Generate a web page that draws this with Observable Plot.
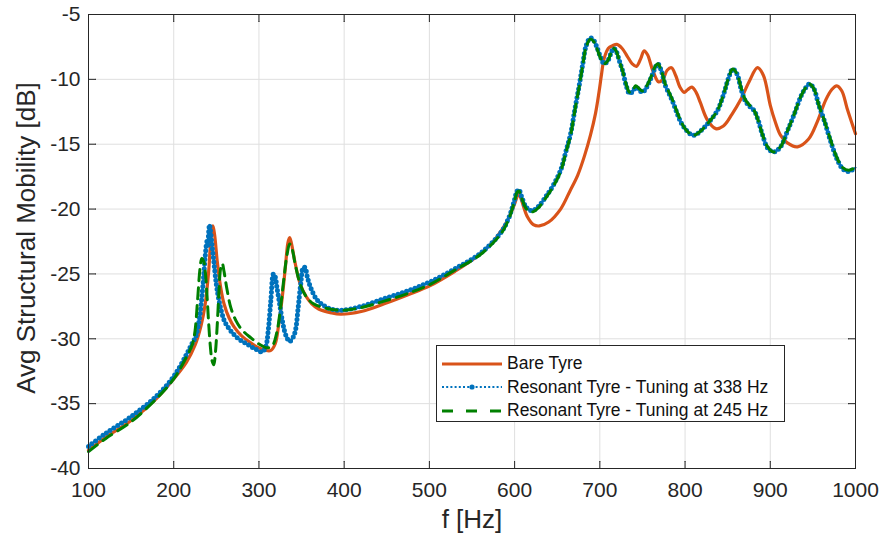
<!DOCTYPE html>
<html>
<head>
<meta charset="utf-8">
<script src="https://cdn.jsdelivr.net/npm/d3@7"></script>
<script src="https://cdn.jsdelivr.net/npm/@observablehq/plot@0.6"></script>
<style>
  html, body { margin: 0; padding: 0; background: #fff; }
  #wrap { position: relative; width: 882px; height: 544px; font-family: "Liberation Sans", Arial, sans-serif; }
  #legend { position: absolute; left: 436px; top: 345px; width: 349px; height: 77px; border: 1px solid #262626; background: #fff; box-sizing: border-box; padding-top: 6px; }
  .row { display: flex; align-items: center; height: 23.5px; font-size: 17.5px; color: #111; }
  .row svg { margin-left: 5px; margin-right: 5px; }
  #ylabel { position: absolute; left: 26px; top: 238px; transform: translate(-50%, -50%) rotate(-90deg); white-space: nowrap; font-size: 26px; color: #262626; line-height: 1; }
</style>
</head>
<body>
<div id="wrap"></div>
<script>
// ---- data ----
const xTicks = [100, 200, 300, 400, 500, 600, 700, 800, 900, 1000];
const yTicks = [-40, -35, -30, -25, -20, -15, -10, -5];
const xLabel = "f [Hz]";
const yLabel = "Avg Structural Mobility [dB]";
const seriesNames = ["Bare Tyre", "Resonant Tyre - Tuning at 338 Hz", "Resonant Tyre - Tuning at 245 Hz"];
const seriesColors = ["#D95319", "#0072BD", "#008000"];

const freqBare = [100,120,150,180,200,215,225,232,237,241,244,246,248,251,255,259,265,271,280,290,300,308,314,319,323,327,331,334,336,338,342,348,355,362,370,385,396,420,447,475,501,530,555,575,584,593,600,605,608,615,622,629,640,654,665,674,682,689,695,699,702,705,710,715,720,726,732,738,743,748,752,756,762,769,774,779,784,789,794,799,803,808,813,818,826,836,845,855,865,875,885,892,900,906,912,920,932,945,955,965,972,978,984,990,1000];
const bare = [-38.6,-37.6,-36.3,-34.6,-33.1,-31.8,-30.5,-29.0,-27.3,-24.8,-22.0,-21.3,-22.0,-24.0,-26.0,-27.3,-28.4,-29.1,-29.8,-30.3,-30.7,-30.9,-30.9,-30.4,-29.0,-27.0,-24.5,-22.6,-22.2,-22.6,-24.0,-25.7,-26.7,-27.3,-27.7,-28.0,-28.1,-27.9,-27.3,-26.6,-25.9,-24.8,-23.7,-22.5,-21.7,-20.7,-19.6,-18.8,-19.3,-20.6,-21.2,-21.3,-21.0,-20.0,-18.6,-17.4,-15.9,-14.3,-12.6,-11.0,-9.6,-8.4,-7.6,-7.4,-7.3,-7.6,-8.2,-8.8,-9.0,-8.4,-7.8,-8.1,-9.3,-10.2,-10.0,-9.3,-9.1,-9.7,-10.6,-11.0,-10.8,-10.6,-11.0,-11.8,-13.1,-13.8,-13.6,-12.7,-11.6,-10.2,-9.1,-9.7,-12.0,-13.3,-14.3,-14.9,-15.2,-14.6,-13.3,-11.6,-10.8,-10.5,-10.9,-12.2,-14.2];

const freqR338 = [100,120,150,180,200,215,222,226,230,233,235,237,239,240,241,242,243,245,247,250,253,256,260,267,276,286,296,304,308,311,314,317,319,321,324,328,332,336,340,343,346,349,352,354,357,361,367,373,384,396,420,447,475,501,530,560,584,593,599,603,605,608,613,618,622,628,636,645,654,660,666,671,676,680,684,689,693,697,701,705,709,713,716,719,723,727,731,735,739,742,746,750,755,760,765,768,772,777,782,786,790,795,800,806,811,818,828,838,845,851,856,861,866,871,876,881,886,891,897,904,912,920,928,936,942,946,951,957,963,970,978,985,992,1000];
const r338 = [-38.3,-37.3,-36.0,-34.4,-32.9,-31.2,-30.3,-29.8,-28.5,-26.8,-25.3,-23.6,-22.5,-22.8,-21.8,-21.2,-21.6,-22.8,-24.0,-25.8,-27.0,-27.9,-28.7,-29.4,-30.0,-30.4,-30.8,-31.0,-30.6,-29.3,-27.0,-25.0,-25.2,-26.0,-27.2,-28.8,-29.8,-30.2,-29.9,-29.3,-27.6,-25.8,-24.5,-24.5,-25.3,-26.1,-26.9,-27.3,-27.7,-27.8,-27.5,-26.9,-26.3,-25.6,-24.6,-23.4,-21.8,-20.7,-19.5,-18.6,-18.5,-19.0,-19.8,-20.1,-20.1,-19.8,-19.1,-18.2,-17.0,-15.6,-14.1,-12.2,-10.4,-8.8,-7.4,-6.8,-7.0,-7.6,-8.3,-8.8,-8.6,-8.0,-7.6,-7.8,-8.6,-9.4,-10.5,-11.1,-10.9,-10.6,-10.8,-11.0,-10.6,-9.9,-9.1,-8.8,-9.3,-10.5,-11.2,-11.8,-12.5,-13.3,-13.8,-14.2,-14.3,-14.0,-13.3,-12.4,-11.2,-9.9,-9.2,-9.6,-10.8,-11.7,-12.1,-12.4,-13.2,-14.3,-15.3,-15.6,-15.2,-14.0,-12.7,-11.3,-10.6,-10.35,-10.7,-12.0,-13.1,-14.6,-16.1,-16.9,-17.1,-16.8];

const freqR245 = [100,120,150,180,200,215,222,225,228,231,233,235,237,239,241,243,245,247,249,251,253,255,257,259,262,267,273,280,290,300,310,316,321,325,329,333,336,339,343,349,356,364,376,396,420,447,475,501,530,560,584,593,599,603,605,608,613,618,622,628,636,645,654,660,666,671,676,680,684,689,693,697,701,705,709,713,716,719,723,727,731,735,739,742,746,750,755,760,765,768,772,777,782,786,790,795,800,806,811,818,828,838,845,851,856,861,866,871,876,881,886,891,897,904,912,920,928,936,942,946,951,957,963,970,978,985,992,1000];
const r245 = [-38.7,-37.7,-36.4,-34.6,-33.1,-31.4,-30.4,-29.4,-27.0,-24.5,-23.8,-24.0,-24.8,-26.6,-28.8,-30.6,-31.7,-32.0,-31.0,-29.0,-26.5,-24.6,-24.2,-24.8,-26.0,-27.6,-28.6,-29.3,-29.9,-30.4,-30.7,-30.5,-29.5,-27.8,-25.5,-23.5,-22.7,-23.1,-24.4,-25.9,-26.8,-27.3,-27.6,-27.8,-27.6,-27.1,-26.5,-25.8,-24.7,-23.5,-21.9,-20.8,-19.6,-18.7,-18.6,-19.1,-19.9,-20.2,-20.2,-19.9,-19.2,-18.3,-17.1,-15.7,-14.2,-12.3,-10.5,-8.9,-7.5,-6.9,-7.1,-7.7,-8.4,-8.8,-8.6,-8.0,-7.6,-7.8,-8.6,-9.4,-10.4,-11.0,-10.8,-10.5,-10.7,-10.9,-10.5,-9.8,-9.0,-8.8,-9.3,-10.4,-11.1,-11.7,-12.4,-13.2,-13.8,-14.2,-14.3,-14.0,-13.3,-12.4,-11.2,-9.9,-9.2,-9.6,-10.7,-11.6,-12.0,-12.4,-13.2,-14.3,-15.2,-15.6,-15.2,-14.0,-12.7,-11.3,-10.6,-10.35,-10.7,-12.0,-13.1,-14.5,-16.0,-16.8,-17.0,-16.8];

// ---- tables ----
const bareData = freqBare.map((f, i) => ({f, v: bare[i]}));
const r338Data = freqR338.map((f, i) => ({f, v: r338[i]}));
const r245Data = freqR245.map((f, i) => ({f, v: r245[i]}));

const axisColor = "#262626";
const tickLen = 7;

const chart = Plot.plot({
  width: 882,
  height: 544,
  marginLeft: 88,
  marginRight: 27,
  marginTop: 14,
  marginBottom: 76,
  style: {fontFamily: "'Liberation Sans', Arial, sans-serif", color: axisColor, background: "#fff"},
  x: {domain: [100, 1000]},
  y: {domain: [-40, -5]},
  marks: [
    Plot.gridX(xTicks, {stroke: "#dfdfdf", strokeOpacity: 1, strokeWidth: 1}),
    Plot.gridY(yTicks, {stroke: "#dfdfdf", strokeOpacity: 1, strokeWidth: 1}),
    Plot.line(bareData, {x: "f", y: "v", stroke: seriesColors[0], strokeWidth: 3.2, curve: "catmull-rom"}),
    Plot.line(r338Data, {x: "f", y: "v", stroke: seriesColors[1], strokeWidth: 2, strokeDasharray: "2,2", curve: "catmull-rom"}),
    Plot.line(r338Data, {x: "f", y: "v", stroke: seriesColors[1], strokeWidth: 5, strokeDasharray: "0,4.5", strokeLinecap: "round", curve: "catmull-rom"}),
    Plot.line(r245Data, {x: "f", y: "v", stroke: seriesColors[2], strokeWidth: 3, strokeDasharray: "11,7", curve: "catmull-rom"}),
    Plot.frame({stroke: axisColor, strokeWidth: 1}),
    // inward ticks
    Plot.vector(xTicks, {x: d => d, frameAnchor: "bottom", length: tickLen, rotate: 0, anchor: "start", r: 0, stroke: axisColor, strokeWidth: 1}),
    Plot.vector(xTicks, {x: d => d, frameAnchor: "top", length: tickLen, rotate: 180, anchor: "start", r: 0, stroke: axisColor, strokeWidth: 1}),
    Plot.vector(yTicks, {y: d => d, frameAnchor: "left", length: tickLen, rotate: 90, anchor: "start", r: 0, stroke: axisColor, strokeWidth: 1}),
    Plot.vector(yTicks, {y: d => d, frameAnchor: "right", length: tickLen, rotate: -90, anchor: "start", r: 0, stroke: axisColor, strokeWidth: 1}),
    Plot.axisX(xTicks, {tickSize: 0, tickPadding: 14, fontSize: 21, label: null, tickFormat: d => String(d), fill: axisColor}),
    Plot.axisY(yTicks, {tickSize: 0, tickPadding: 8, fontSize: 21, label: null, tickFormat: d => String(d), fill: axisColor}),
    Plot.text([xLabel], {frameAnchor: "bottom", dy: 59, fontSize: 26, fill: axisColor})
  ]
});

const wrap = document.getElementById("wrap");
wrap.appendChild(chart);

// y-axis label (HTML, rotated)
const yl = document.createElement("div");
yl.id = "ylabel";
yl.textContent = yLabel;
wrap.appendChild(yl);

// legend (HTML overlay)
const legend = document.createElement("div");
legend.id = "legend";
const swatches = [
  `<svg width="60" height="10"><line x1="0" y1="5" x2="60" y2="5" stroke="${seriesColors[0]}" stroke-width="3.2"/></svg>`,
  `<svg width="60" height="10"><line x1="0" y1="5" x2="60" y2="5" stroke="${seriesColors[1]}" stroke-width="2.2" stroke-dasharray="2,2.2"/><circle cx="30" cy="5" r="2.6" fill="${seriesColors[1]}"/></svg>`,
  `<svg width="60" height="10"><line x1="0" y1="5" x2="60" y2="5" stroke="${seriesColors[2]}" stroke-width="3" stroke-dasharray="11,13"/></svg>`
];
seriesNames.forEach((name, i) => {
  const row = document.createElement("div");
  row.className = "row";
  row.innerHTML = swatches[i] + `<span>${name}</span>`;
  legend.appendChild(row);
});
wrap.appendChild(legend);
</script>
</body>
</html>
